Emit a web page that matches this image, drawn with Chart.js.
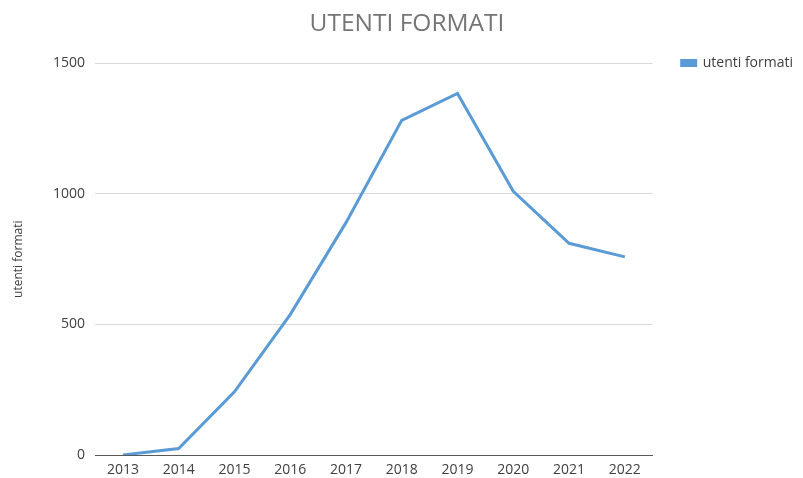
<!DOCTYPE html>
<html>
<head>
<meta charset="utf-8">
<script src="https://cdn.jsdelivr.net/npm/chart.js@4"></script>
<style>
  html, body { margin: 0; padding: 0; background: #fff; }
  #wrap { width: 803px; height: 478px; }
</style>
</head>
<body>
<div id="wrap"><canvas id="grafico"></canvas></div>
<script>
// dati
const anni = ['2013', '2014', '2015', '2016', '2017', '2018', '2019', '2020', '2021', '2022'];
const utentiFormati = [0, 25, 242, 538, 890, 1282, 1385, 1010, 811, 759];
const tickY = [0, 500, 1000, 1500];

const blu = '#5b9bd5';
const testo = '#404040';

new Chart(document.getElementById('grafico'), {
    type: 'line',
    data: {
        labels: anni,
        datasets: [{
            label: 'utenti formati',
            data: utentiFormati,
            borderColor: blu,
            backgroundColor: blu,
            borderWidth: 3,
            pointRadius: 0,
            tension: 0
        }]
    },
    options: {
        responsive: true,
        maintainAspectRatio: false,
        animation: false,
        layout: { padding: { left: 11, right: 0, top: 0, bottom: 0 } },
        plugins: {
            title: {
                display: true,
                text: 'UTENTI FORMATI',
                color: '#757575',
                font: { family: 'Open Sans', size: 24.5, weight: 'normal' },
                padding: { top: 9, bottom: 25 }
            },
            legend: {
                position: 'right',
                align: 'start',
                // titolo vuoto solo per spingere la voce in basso
                title: { display: true, text: ' ', font: { size: 10 }, padding: { top: 15, bottom: 0 } },
                labels: {
                    color: testo,
                    font: { family: 'Open Sans', size: 14 },
                    boxWidth: 14,
                    boxHeight: 5,
                    padding: 29
                }
            },
            tooltip: { enabled: false }
        },
        scales: {
            x: {
                offset: true,
                grid: { display: false, drawTicks: false },
                border: { color: '#595959', width: 1 },
                afterFit: scale => { scale.height = 23; },
                ticks: { color: testo, font: { family: 'Open Sans', size: 14 }, padding: 7, maxRotation: 0 }
            },
            y: {
                min: 0,
                max: 1500,
                afterBuildTicks: scale => { scale.ticks = tickY.map(v => ({ value: v })); },
                afterFit: scale => { scale.width = 84; },
                grid: { color: '#d9d9d9', drawTicks: false },
                border: { display: false },
                ticks: { color: testo, font: { family: 'Open Sans', size: 14 }, padding: 10, callback: v => String(v) },
                title: {
                    display: true,
                    text: 'utenti formati',
                    color: testo,
                    font: { family: 'Open Sans', size: 12 },
                    padding: 0
                }
            }
        }
    }
});
</script>
</body>
</html>
